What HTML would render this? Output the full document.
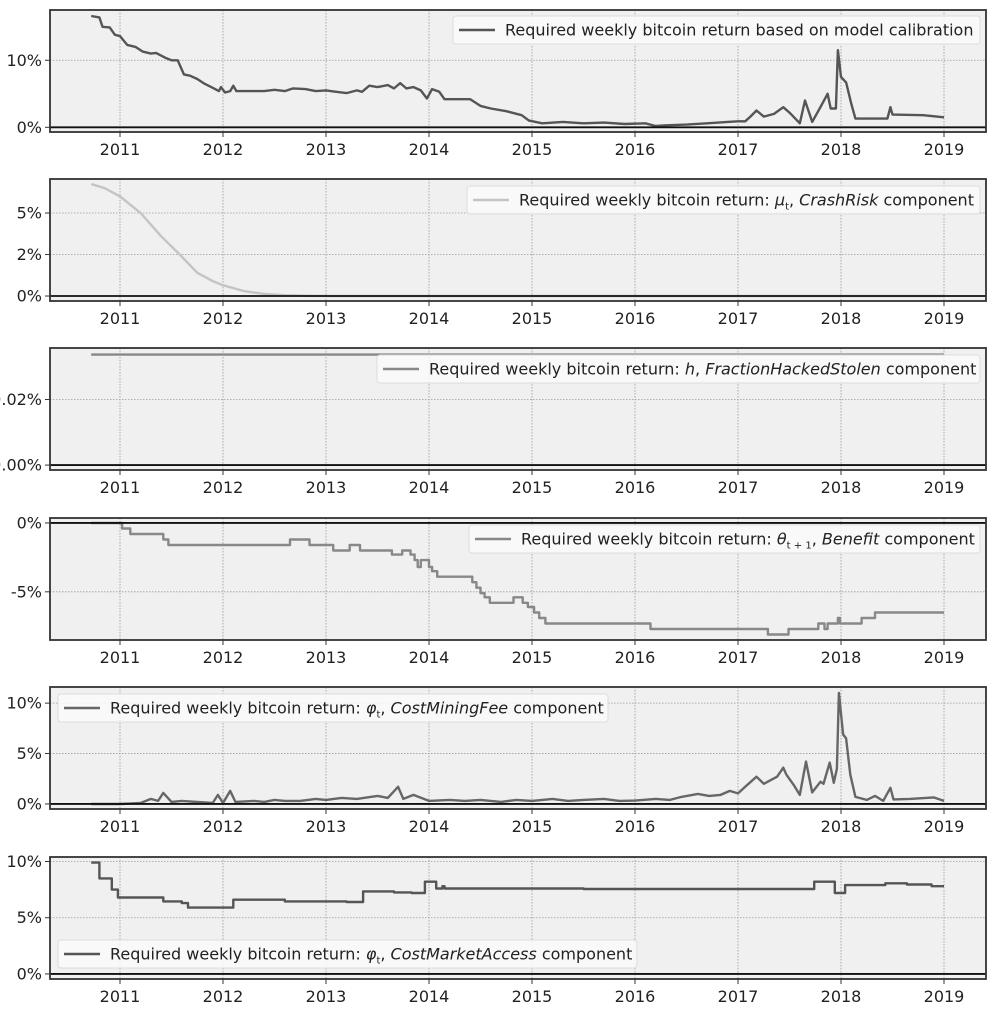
<!DOCTYPE html>
<html><head><meta charset="utf-8">
<style>
html,body{margin:0;padding:0;background:#fff;}
svg{display:block;font-family:"DejaVu Sans","Liberation Sans",sans-serif;}
</style></head>
<body>
<svg id="chart" width="989" height="1009" viewBox="0 0 989 1009"></svg>
<script>
// ---- data ----
const yearTicks = [2011,2012,2013,2014,2015,2016,2017,2018,2019];

const dates1 = [2010.72,2010.8,2010.83,2010.9,2010.95,2011.0,2011.07,2011.15,2011.22,2011.3,2011.35,2011.45,2011.5,2011.56,2011.62,2011.68,2011.75,2011.82,2011.9,2011.96,2011.98,2012.02,2012.07,2012.1,2012.13,2012.4,2012.5,2012.6,2012.68,2012.8,2012.9,2013.0,2013.1,2013.2,2013.3,2013.35,2013.42,2013.5,2013.6,2013.66,2013.72,2013.78,2013.85,2013.92,2013.98,2014.03,2014.1,2014.15,2014.4,2014.5,2014.6,2014.75,2014.9,2014.97,2015.1,2015.3,2015.5,2015.7,2015.9,2016.1,2016.2,2016.3,2016.5,2016.7,2016.9,2017.0,2017.07,2017.12,2017.18,2017.25,2017.35,2017.44,2017.5,2017.6,2017.65,2017.72,2017.8,2017.87,2017.9,2017.95,2017.97,2018.0,2018.05,2018.1,2018.14,2018.45,2018.48,2018.5,2018.8,2019.0];
const vals1 = [16.6,16.4,15.0,14.9,13.8,13.6,12.3,12.0,11.3,11.0,11.1,10.3,10.0,10.0,7.9,7.7,7.2,6.5,5.9,5.4,6.0,5.2,5.4,6.2,5.4,5.4,5.6,5.4,5.8,5.7,5.4,5.5,5.3,5.1,5.5,5.3,6.2,6.0,6.3,5.8,6.6,5.8,6.0,5.5,4.3,5.7,5.3,4.2,4.2,3.2,2.8,2.4,1.8,1.0,0.6,0.8,0.6,0.7,0.5,0.6,0.2,0.3,0.4,0.6,0.8,0.9,0.9,1.6,2.5,1.6,2.0,3.0,2.2,0.6,4.0,0.8,3.0,5.0,2.8,2.8,11.5,7.5,6.7,3.5,1.3,1.3,3.0,1.9,1.8,1.5];

const dates2 = [2010.72,2010.85,2011.0,2011.2,2011.4,2011.58,2011.75,2011.9,2012.0,2012.2,2012.4,2012.6,2012.8,2013.0,2019.0];
const vals2 = [6.75,6.5,6.0,5.0,3.6,2.5,1.4,0.9,0.65,0.3,0.12,0.05,0.02,0.0,0.0];

const dates3 = [2010.72,2019.0];
const vals3 = [0.0337,0.0337];

const dates4 = [2010.72,2011.02,2011.1,2011.42,2011.47,2012.65,2012.84,2013.07,2013.23,2013.33,2013.64,2013.74,2013.82,2013.86,2013.89,2013.92,2014.0,2014.03,2014.08,2014.42,2014.46,2014.5,2014.54,2014.59,2014.82,2014.91,2014.96,2015.02,2015.07,2015.13,2016.15,2017.29,2017.49,2017.78,2017.84,2017.87,2017.89,2017.97,2017.99,2018.2,2018.33];
const vals4 = [0,-0.4,-0.8,-1.2,-1.6,-1.2,-1.6,-2.0,-1.6,-2.0,-2.3,-2.0,-2.3,-2.7,-3.2,-2.7,-3.2,-3.5,-3.9,-4.3,-4.7,-5.1,-5.4,-5.8,-5.4,-5.8,-6.1,-6.5,-6.9,-7.3,-7.7,-8.1,-7.7,-7.3,-7.7,-7.3,-7.3,-6.9,-7.3,-6.9,-6.5];

const dates5 = [2010.72,2011.0,2011.2,2011.3,2011.37,2011.42,2011.5,2011.6,2011.9,2011.95,2012.0,2012.07,2012.12,2012.3,2012.4,2012.5,2012.6,2012.75,2012.9,2013.0,2013.15,2013.3,2013.5,2013.6,2013.7,2013.75,2013.85,2014.0,2014.2,2014.35,2014.5,2014.7,2014.85,2015.0,2015.2,2015.35,2015.5,2015.7,2015.85,2016.0,2016.2,2016.34,2016.45,2016.61,2016.72,2016.83,2016.92,2017.0,2017.07,2017.18,2017.25,2017.38,2017.44,2017.47,2017.54,2017.6,2017.66,2017.72,2017.8,2017.83,2017.89,2017.93,2017.96,2017.98,2018.02,2018.05,2018.09,2018.14,2018.25,2018.33,2018.41,2018.48,2018.51,2018.67,2018.9,2019.0];
const vals5 = [0,0,0.1,0.5,0.3,1.1,0.2,0.3,0.1,0.9,0.1,1.3,0.2,0.3,0.2,0.4,0.3,0.3,0.5,0.4,0.6,0.5,0.8,0.6,1.7,0.5,0.9,0.3,0.4,0.3,0.4,0.2,0.4,0.3,0.5,0.3,0.4,0.5,0.3,0.33,0.5,0.4,0.7,1.0,0.8,0.9,1.3,1.05,1.7,2.7,2.0,2.7,3.6,2.9,1.9,0.9,4.2,1.15,2.2,2.0,4.1,2.1,3.5,11.0,6.9,6.5,2.9,0.7,0.4,0.8,0.3,1.6,0.45,0.5,0.65,0.3];

const dates6 = [2010.72,2010.8,2010.92,2010.98,2011.42,2011.6,2011.66,2012.1,2012.6,2013.2,2013.36,2013.66,2013.83,2013.96,2014.07,2014.13,2014.15,2015.5,2017.74,2017.94,2018.04,2018.43,2018.64,2018.88];
const vals6 = [9.9,8.5,7.5,6.8,6.45,6.3,5.9,6.6,6.45,6.4,7.34,7.25,7.2,8.2,7.6,7.8,7.6,7.55,8.2,7.2,7.9,8.06,7.95,7.8];
const endDate = 2019.0;

const yTicks1 = [0,10], yLabels1 = ["0%","10%"];
const yTicks2 = [0,2.5,5], yLabels2 = ["0%","2%","5%"];
const yTicks3 = [0,0.02], yLabels3 = ["0.00%","0.02%"];
const yTicks4 = [-5,0], yLabels4 = ["-5%","0%"];
const yTicks5 = [0,5,10], yLabels5 = ["0%","5%","10%"];
const yTicks6 = [0,5,10], yLabels6 = ["0%","5%","10%"];

// ---- layout ----
const NS = "http://www.w3.org/2000/svg";
const svg = document.getElementById("chart");
const X0 = 50, X1 = 986, H = 122;
function xScale(yr){ return 120 + (yr - 2011) * 103; }
function mk(tag, attrs, parent){
  const e = document.createElementNS(NS, tag);
  for (const k in attrs) e.setAttribute(k, attrs[k]);
  (parent || svg).appendChild(e);
  return e;
}
const panels = [
  {top:10, ymin:-0.7, ymax:17.5, d:dates1, v:vals1, step:false, color:"#555", ticks:yTicks1, labels:yLabels1, name:"model-calibration",
   leg:{x:453,y:16,w:527,label:'Required weekly bitcoin return based on model calibration'}},
  {top:179, ymin:-0.3, ymax:7.05, d:dates2, v:vals2, step:false, color:"#c4c4c4", ticks:yTicks2, labels:yLabels2, name:"crash-risk",
   leg:{x:467,y:186,w:513,label:'Required weekly bitcoin return: <tspan font-style="italic">μ</tspan><tspan font-size="10" dy="4">t</tspan><tspan dy="-4">, </tspan><tspan font-style="italic">CrashRisk</tspan> component'}},
  {top:348, ymin:-0.0015, ymax:0.0357, d:dates3, v:vals3, step:false, color:"#888", ticks:yTicks3, labels:yLabels3, name:"fraction-hacked-stolen",
   leg:{x:377,y:355,w:603,label:'Required weekly bitcoin return: <tspan font-style="italic">h</tspan>, <tspan font-style="italic">FractionHackedStolen</tspan> component'}},
  {top:518, ymin:-8.5, ymax:0.36, d:dates4, v:vals4, step:true, color:"#888", ticks:yTicks4, labels:yLabels4, name:"benefit",
   leg:{x:469,y:525,w:511,label:'Required weekly bitcoin return: <tspan font-style="italic">θ</tspan><tspan font-size="10" dy="4">t + 1</tspan><tspan dy="-4">, </tspan><tspan font-style="italic">Benefit</tspan> component'}},
  {top:687, ymin:-0.5, ymax:11.6, d:dates5, v:vals5, step:false, color:"#666", ticks:yTicks5, labels:yLabels5, name:"cost-mining-fee",
   leg:{x:58,y:694,w:550,label:'Required weekly bitcoin return: <tspan font-style="italic">φ</tspan><tspan font-size="10" dy="4">t</tspan><tspan dy="-4">, </tspan><tspan font-style="italic">CostMiningFee</tspan> component'}},
  {top:857, ymin:-0.45, ymax:10.4, d:dates6, v:vals6, step:true, color:"#555", ticks:yTicks6, labels:yLabels6, name:"cost-market-access",
   leg:{x:58,y:940,w:579,label:'Required weekly bitcoin return: <tspan font-style="italic">φ</tspan><tspan font-size="10" dy="4">t</tspan><tspan dy="-4">, </tspan><tspan font-style="italic">CostMarketAccess</tspan> component'}}
];

panels.forEach((p, i) => {
  const g = mk("g", {});
  
  
  const yS = v => p.top + H - (v - p.ymin) / (p.ymax - p.ymin) * H;
  const bg = mk("rect", {x:X0, y:p.top, width:X1-X0, height:H, fill:"#f0f0f0"}, g);
  
  
  yearTicks.forEach(yr => {
    const x = xScale(yr);
    const gl = mk("line", {x1:x, x2:x, y1:p.top, y2:p.top+H, stroke:"#999", "stroke-width":0.8, "stroke-dasharray":"1.5,1.5"}, g);
    
    
    const tk = mk("line", {x1:x, x2:x, y1:p.top+H, y2:p.top+H+5, stroke:"#333", "stroke-width":1}, g);
    
    
    const t = mk("text", {x:x, y:p.top+H+23, "text-anchor":"middle", "font-size":16, fill:"#222"}, g);
    t.textContent = yr;
    
    
  });
  p.ticks.forEach((tv, k) => {
    const y = yS(tv);
    const gl = mk("line", {x1:X0, x2:X1, y1:y, y2:y, stroke:"#999", "stroke-width":0.8, "stroke-dasharray":"1.5,1.5"}, g);
    
    
    const tk = mk("line", {x1:X0-5, x2:X0, y1:y, y2:y, stroke:"#333", "stroke-width":1}, g);
    
    
    const t = mk("text", {x:X0-8, y:y+5.5, "text-anchor":"end", "font-size":16, fill:"#222"}, g);
    t.textContent = p.labels[k];
    
    
  });
  let pts = [];
  for (let k = 0; k < p.d.length; k++) {
    const x = xScale(p.d[k]), y = yS(p.v[k]);
    if (p.step && k > 0) pts.push(x.toFixed(1) + "," + yS(p.v[k-1]).toFixed(1));
    pts.push(x.toFixed(1) + "," + y.toFixed(1));
  }
  if (p.step) pts.push(xScale(endDate).toFixed(1) + "," + yS(p.v[p.v.length-1]).toFixed(1));
  const line = mk("polyline", {points:pts.join(" "), fill:"none", stroke:p.color, "stroke-width":2.4, "stroke-linejoin":"round"}, g);
  
  
  const z = yS(0);
  const zl = mk("line", {x1:X0, x2:X1, y1:z, y2:z, stroke:"#111", "stroke-width":1.8}, g);
  
  
  const fr = mk("rect", {x:X0, y:p.top, width:X1-X0, height:H, fill:"none", stroke:"#333", "stroke-width":1.8}, g);
  
  
  const lg = mk("g", {}, g);
  
  
  mk("rect", {x:p.leg.x, y:p.leg.y, width:p.leg.w, height:28, rx:3, fill:"#fafafa", "fill-opacity":0.85, stroke:"#ddd", "stroke-width":1}, lg);
  const sw = mk("line", {x1:p.leg.x+6, x2:p.leg.x+42, y1:p.leg.y+14, y2:p.leg.y+14, stroke:p.color, "stroke-width":2.4}, lg);
  
  
  const lt = mk("text", {x:p.leg.x+52, y:p.leg.y+19.5, "font-size":16, fill:"#222"}, lg);
  lt.innerHTML = p.leg.label;
  
  
});
</script>
</body></html>
